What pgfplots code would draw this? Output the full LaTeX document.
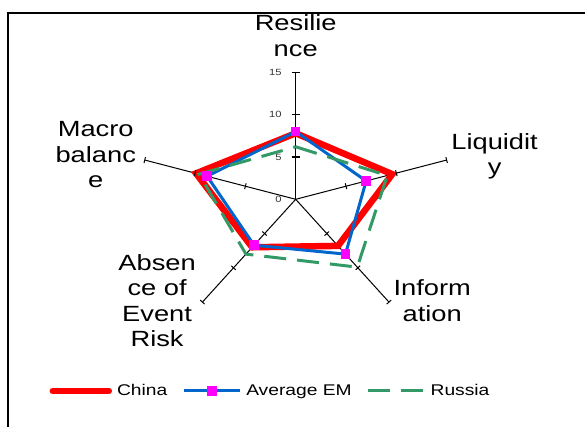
\documentclass[border=0pt]{standalone}
\usepackage{fontspec}
\setmainfont{Liberation Sans}
\usepackage{graphicx}
\usepackage{pgfplots}
\pgfplotsset{compat=1.18}
\definecolor{cRed}{HTML}{FF0000}
\definecolor{cBlue}{HTML}{0066CC}
\definecolor{cMag}{HTML}{FF00FF}
\definecolor{cGreen}{HTML}{339966}
\newcommand\wl[1]{\scalebox{1.24}[1]{\begin{tabular}{@{}c@{}}#1\end{tabular}}}
\newcommand\ws[1]{\scalebox{1.24}[1]{#1}}
\begin{document}
\begin{tikzpicture}
\useasboundingbox (-295.7bp,-227.7bp) rectangle (289.3bp,199.3bp);
\begin{axis}[
  at={(0,0)}, anchor=center,
  x=10.58bp, y=8.47bp,
  xmin=-15, xmax=15, ymin=-15, ymax=15,
  hide axis, clip=false,
  legend columns=3,
  legend style={at={(axis cs:-2.43,-22.63)}, anchor=center, draw=none, fill=none,
    font=\fontsize{15.5bp}{18bp}\selectfont, inner sep=0pt, nodes={inner sep=1bp},
    /tikz/every odd column/.append style={column sep=4bp},
    /tikz/every even column/.append style={column sep=14bp}},
  legend image code/.code={\draw[mark repeat=2,mark phase=2,#1] plot coordinates {(0bp,0bp) (28bp,0bp) (56bp,0bp)};},
]
% spokes
\addplot[black, line width=1.5bp, data cs=polar, forget plot] coordinates {(90,0) (90,15)};
\addplot[black, line width=1bp, data cs=polar, forget plot] coordinates {(18,0) (18,15)};
\addplot[black, line width=1bp, data cs=polar, forget plot] coordinates {(-54,0) (-54,15)};
\addplot[black, line width=1bp, data cs=polar, forget plot] coordinates {(234,0) (234,15)};
\addplot[black, line width=1bp, data cs=polar, forget plot] coordinates {(162,0) (162,15)};
% tick marks
\addplot[black, only marks, data cs=polar, mark=|, mark options={line width=1.2bp, mark size=4bp, rotate=90}, forget plot] coordinates {(90,5) (90,10) (90,15)};
\addplot[black, only marks, data cs=polar, mark=|, mark options={line width=1bp, mark size=3bp, rotate=14.6}, forget plot] coordinates {(18,5) (18,10) (18,15)};
\addplot[black, only marks, data cs=polar, mark=|, mark options={line width=1bp, mark size=3bp, rotate=-47.8}, forget plot] coordinates {(-54,5) (-54,10) (-54,15)};
\addplot[black, only marks, data cs=polar, mark=|, mark options={line width=1bp, mark size=3bp, rotate=47.8}, forget plot] coordinates {(234,5) (234,10) (234,15)};
\addplot[black, only marks, data cs=polar, mark=|, mark options={line width=1bp, mark size=3bp, rotate=165.4}, forget plot] coordinates {(162,5) (162,10) (162,15)};
% series
\addplot[cRed, line width=6.5bp, line cap=round, data cs=polar] coordinates {(90,7.8) (18,9.6) (-54,6.8) (234,7.0) (162,9.9) (90,7.8)};
\addlegendentry{\ws{China}}
\addplot[cBlue, line width=3bp, data cs=polar, mark=square*, mark options={draw=cMag, fill=cMag, mark size=3.3bp}] coordinates {(90,8.0) (18,7.0) (-54,8.0) (234,6.7) (162,8.8) (90,8.0)};
\addlegendentry{\ws{Average EM}}
\addplot[cGreen, line width=3bp, dash pattern=on 22bp off 11bp, data cs=polar] coordinates {(90,6.2) (18,9.1) (-54,9.9) (234,8.0) (162,9.6) (90,6.2)};
\addlegendentry{\ws{Russia}}
% tick labels
\foreach \v in {0,5,10,15} {
  \edef\tmp{\noexpand\node[anchor=east, font=\noexpand\fontsize{9bp}{10bp}\noexpand\selectfont, text=black!80, inner sep=0pt, xshift=-14bp] at (axis cs:0,\v) {\noexpand\ws{\v}};}
  \tmp
}
% category labels
\node[font=\fontsize{22bp}{25.5bp}\selectfont, inner sep=0pt] at (axis cs:0,19.0) {\wl{Resilie\\nce}};
\node[font=\fontsize{22bp}{25.5bp}\selectfont, inner sep=0pt] at (axis cs:18.8,5.0) {\wl{Liquidit\\y}};
\node[font=\fontsize{22bp}{25.5bp}\selectfont, inner sep=0pt] at (axis cs:12.9,-12.3) {\wl{Inform\\ation}};
\node[font=\fontsize{22bp}{25.5bp}\selectfont, inner sep=0pt] at (axis cs:-13.1,-12.3) {\wl{Absen\\ce of\\Event\\Risk}};
\node[font=\fontsize{22bp}{25.5bp}\selectfont, inner sep=0pt] at (axis cs:-18.9,5.0) {\wl{Macro\\balanc\\e}};
\end{axis}
\draw[line width=2bp] (-287.7bp,-227.7bp) -- (-287.7bp,186.3bp) -- (289.3bp,186.3bp);
\end{tikzpicture}
\end{document}
